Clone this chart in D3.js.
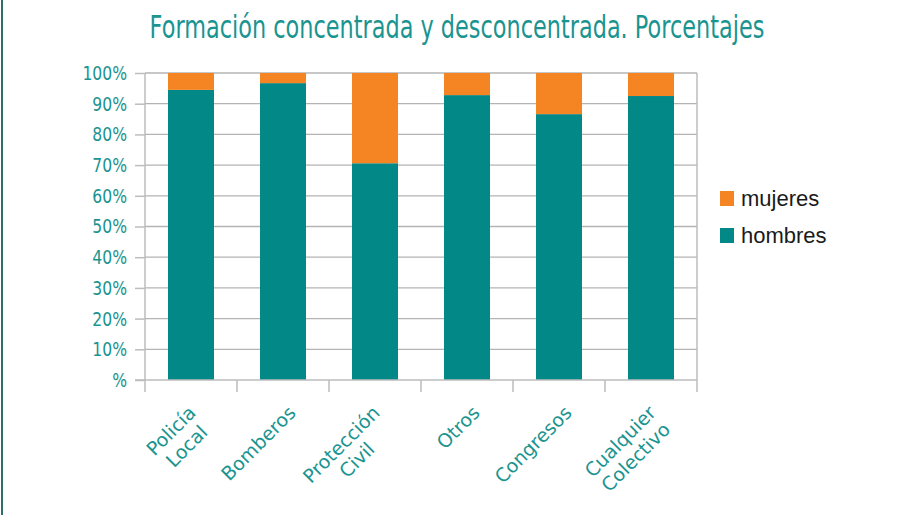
<!DOCTYPE html>
<html lang="es">
<head>
    <meta charset="UTF-8">
    <title>Formación concentrada y desconcentrada. Porcentajes</title>
    <script src="https://d3js.org/d3.v7.min.js"></script>
    <style>
        body { margin: 0; background: #fff; }
        svg { display: block; }
    </style>
</head>
<body>
    <div id="chart"></div>
    <script>
        // Data (percentages)
        const categories = [["Policía", "Local"], ["Bomberos"], ["Protección", "Civil"], ["Otros"], ["Congresos"], ["Cualquier", "Colectivo"]];
        const hombres = [94.5, 96.7, 70.6, 92.8, 86.6, 92.5];
        const mujeres = [5.5, 3.3, 29.4, 7.2, 13.4, 7.5];
        const yTicks = [0, 10, 20, 30, 40, 50, 60, 70, 80, 90, 100];
        const seriesNames = ["mujeres", "hombres"];

        const W = 904, H = 515;
        const teal = "#038888", orange = "#f58523", labelColor = "#1a9490";

        const svg = d3.select("#chart").append("svg")
            .attr("width", W)
            .attr("height", H);

        // left page border
        svg.append("line")
            .attr("x1", 2).attr("x2", 2).attr("y1", 0).attr("y2", H)
            .attr("stroke", "#2b6e6c").attr("stroke-width", 2);

        // plot area
        const plotLeft = 145, plotRight = 697, plotTop = 73, plotBottom = 380;

        const x = d3.scaleBand()
            .domain(d3.range(categories.length))
            .range([plotLeft, plotRight])
            .paddingInner(0.5)
            .paddingOuter(0.25);

        const y = d3.scaleLinear().domain([0, 100]).range([plotBottom, plotTop]);

        // squeeze a text horizontally (the original uses a condensed face)
        function condense(sel, k) {
            sel.each(function () {
                const w = this.getComputedTextLength();
                d3.select(this)
                    .attr("textLength", w * k)
                    .attr("lengthAdjust", "spacingAndGlyphs");
            });
        }

        // title, scaled to the condensed width of the original
        const title = svg.append("text")
            .attr("text-anchor", "middle")
            .attr("font-family", "'DejaVu Sans', sans-serif")
            .attr("font-size", "32px")
            .attr("fill", labelColor)
            .text("Formación concentrada y desconcentrada. Porcentajes");
        const titleW = title.node().getComputedTextLength();
        title.attr("transform", `translate(457,38) scale(${615 / titleW},1)`);

        // gridlines
        svg.append("g")
            .selectAll("line")
            .data(yTicks.slice(1))
            .join("line")
            .attr("x1", plotLeft).attr("x2", plotRight)
            .attr("y1", d => y(d)).attr("y2", d => y(d))
            .attr("stroke", "#b4b4b4")
            .attr("stroke-width", 1.3);

        // y axis
        const yAxis = svg.append("g")
            .attr("transform", `translate(${plotLeft},0)`)
            .call(d3.axisLeft(y).tickValues(yTicks).tickSize(10).tickPadding(8)
                .tickFormat(d => d === 0 ? "%" : d + "%"));
        yAxis.select(".domain").remove();
        yAxis.selectAll(".tick line").attr("stroke", "#bdbdbd").attr("stroke-width", 1.5);
        yAxis.selectAll(".tick text")
            .attr("fill", labelColor)
            .attr("font-family", "'DejaVu Sans', sans-serif")
            .attr("font-size", "20px")
            .call(condense, 0.78);

        // bars: stacked hombres then mujeres
        const bars = svg.append("g");
        bars.selectAll("rect.h")
            .data(hombres)
            .join("rect")
            .attr("class", "h")
            .attr("x", (d, i) => x(i))
            .attr("width", x.bandwidth())
            .attr("y", d => y(d))
            .attr("height", d => y(0) - y(d))
            .attr("fill", teal);
        bars.selectAll("rect.m")
            .data(mujeres)
            .join("rect")
            .attr("class", "m")
            .attr("x", (d, i) => x(i))
            .attr("width", x.bandwidth())
            .attr("y", (d, i) => y(hombres[i] + d))
            .attr("height", (d, i) => y(hombres[i]) - y(hombres[i] + d))
            .attr("fill", orange);

        // axis lines and category ticks
        const step = x.step();
        const axisColor = "#bdbdbd";
        svg.append("line")
            .attr("x1", plotLeft).attr("x2", plotLeft).attr("y1", plotTop).attr("y2", plotBottom + 12)
            .attr("stroke", axisColor).attr("stroke-width", 1.5);
        svg.append("line")
            .attr("x1", plotRight).attr("x2", plotRight).attr("y1", plotTop).attr("y2", plotBottom + 12)
            .attr("stroke", axisColor).attr("stroke-width", 1.5);
        svg.append("line")
            .attr("x1", plotLeft - 10).attr("x2", plotRight).attr("y1", plotBottom).attr("y2", plotBottom)
            .attr("stroke", axisColor).attr("stroke-width", 1.5);
        svg.append("g")
            .selectAll("line")
            .data(d3.range(1, categories.length))
            .join("line")
            .attr("x1", i => x(i) - step * 0.25).attr("x2", i => x(i) - step * 0.25)
            .attr("y1", plotBottom).attr("y2", plotBottom + 12)
            .attr("stroke", axisColor).attr("stroke-width", 1.5);

        // category labels, rotated -45deg, lines centred in their block
        const fs = 19, lh = 22;
        const labels = svg.append("g")
            .selectAll("g")
            .data(categories)
            .join("g")
            .attr("transform", (d, i) =>
                `translate(${x(i) + x.bandwidth() / 2 + 4 - 8 * (d.length - 1)},${plotBottom + 24}) rotate(-45)`);
        labels.each(function (lines) {
            const g = d3.select(this);
            const texts = g.selectAll("text")
                .data(lines)
                .join("text")
                .attr("y", (d, k) => fs * 0.75 + k * lh)
                .attr("font-family", "'DejaVu Sans', sans-serif")
                .attr("font-size", fs + "px")
                .attr("fill", labelColor)
                .attr("text-anchor", "middle")
                .text(d => d);
            let maxW = 0;
            texts.each(function () { maxW = Math.max(maxW, this.getComputedTextLength()); });
            texts.attr("x", -maxW / 2);
        });

        // legend
        const legend = svg.append("g")
            .selectAll("g")
            .data(seriesNames)
            .join("g")
            .attr("transform", (d, i) => `translate(720,${191 + i * 37})`);
        legend.append("rect")
            .attr("width", 14).attr("height", 15)
            .attr("fill", (d, i) => i === 0 ? orange : teal);
        legend.append("text")
            .attr("x", 21)
            .attr("y", 15)
            .attr("font-family", "'Liberation Sans', Arial, sans-serif")
            .attr("font-size", "22px")
            .attr("fill", "#1a1a1a")
            .text(d => d);
    </script>
</body>
</html>
